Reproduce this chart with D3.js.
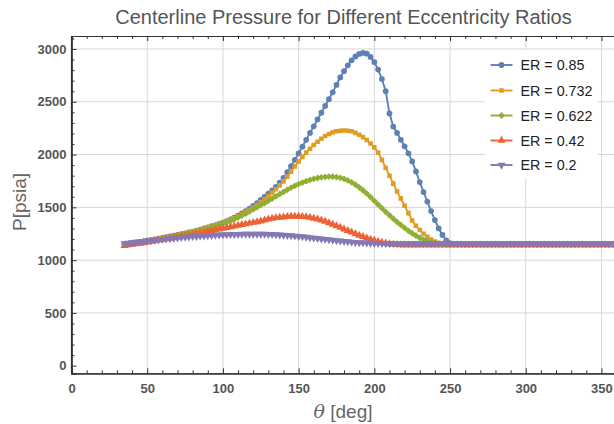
<!DOCTYPE html>
<html>
<head>
<meta charset="utf-8">
<script src="https://cdn.jsdelivr.net/npm/d3@7"></script>
<style>
  html, body { margin: 0; padding: 0; background: #fff; }
  svg { display: block; }
  text { font-family: "Liberation Sans", Arial, sans-serif; }
</style>
</head>
<body>
<svg id="chart" width="614" height="424"></svg>
<script>
// ---------- data ----------
const title = "Centerline Pressure for Different Eccentricity Ratios";
const xLabel = "[deg]";
const yLabel = "P[psia]";
const seriesNames = ["ER = 0.85", "ER = 0.732", "ER = 0.622", "ER = 0.42", "ER = 0.2"];
const xTicks = [0, 50, 100, 150, 200, 250, 300, 350];
const yTicks = [0, 500, 1000, 1500, 2000, 2500, 3000];

const theta = [
  35,37.5,40,42.5,45,47.5,50,52.5,55,57.5,
  60,62.5,65,67.5,70,72.5,75,77.5,80,82.5,
  85,87.5,90,92.5,95,97.5,100,102.5,105,107.5,
  110,112.5,115,117.5,120,122.5,125,127.5,130,132.5,
  135,137.5,140,142.5,145,147.5,150,152.5,155,157.5,
  160,162.5,165,167.5,170,172.5,175,177.5,180,182.5,
  185,187.5,190,192.5,195,197.5,200,202.5,205,207.5,
  210,212.5,215,217.5,220,222.5,225,227.5,230,232.5,
  235,237.5,240,242.5,245,247.5,250,252.5,255,257.5,
  260,262.5,265,267.5,270,272.5,275,277.5,280,282.5,
  285,287.5,290,292.5,295,297.5,300,302.5,305,307.5,
  310,312.5,315,317.5,320,322.5,325,327.5,330,332.5,
  335,337.5,340,342.5,345,347.5,350,352.5,355,357.5,
  360
];

const er085 = [
  1150,1155,1160,1165,1172,1178,1185,1191,1197,1203,
  1210,1217,1224,1231,1238,1246,1254,1262,1271,1280,
  1290,1300,1310,1321,1332,1343,1355,1370,1386,1403,
  1421,1442,1464,1488,1514,1540,1570,1600,1630,1660,
  1695,1735,1780,1833,1890,1950,2012,2075,2140,2205,
  2268,2333,2396,2460,2525,2590,2660,2730,2790,2845,
  2893,2930,2953,2962,2955,2925,2875,2805,2715,2600,
  2390,2265,2205,2140,2078,2012,1935,1840,1740,1645,
  1555,1465,1380,1300,1238,1188,1160,1152,1150,1150,
  1150,1150,1150,1150,1150,1150,1150,1150,1150,1150,
  1150,1150,1150,1150,1150,1150,1150,1150,1150,1150,
  1150,1150,1150,1150,1150,1150,1150,1150,1150,1150,
  1150,1150,1150,1150,1150,1150,1150,1150,1150,1150,
  1150
];

const er0732 = [
  1145,1150,1156,1162,1168,1175,1182,1188,1195,1201,
  1208,1215,1222,1229,1237,1245,1253,1261,1270,1279,
  1289,1299,1309,1320,1331,1342,1354,1368,1383,1399,
  1416,1435,1455,1476,1498,1522,1548,1576,1605,1638,
  1672,1708,1746,1790,1838,1888,1935,1978,2018,2055,
  2090,2122,2150,2175,2195,2210,2220,2226,2228,2226,
  2220,2205,2188,2165,2138,2105,2068,2020,1950,1875,
  1800,1725,1650,1585,1515,1445,1375,1325,1285,1250,
  1220,1195,1175,1162,1155,1152,1150,1150,1150,1150,
  1150,1150,1150,1150,1150,1150,1150,1150,1150,1150,
  1150,1150,1150,1150,1150,1150,1150,1150,1150,1150,
  1150,1150,1150,1150,1150,1150,1150,1150,1150,1150,
  1150,1150,1150,1150,1150,1150,1150,1150,1150,1150,
  1150
];

const er0622 = [
  1150,1155,1160,1165,1170,1176,1182,1188,1194,1200,
  1206,1213,1220,1227,1234,1241,1249,1257,1265,1274,
  1283,1292,1302,1312,1323,1334,1345,1357,1370,1387,
  1405,1422,1440,1460,1480,1500,1520,1541,1562,1583,
  1604,1625,1646,1666,1686,1704,1720,1735,1748,1760,
  1770,1778,1784,1788,1790,1790,1787,1780,1770,1755,
  1737,1715,1690,1662,1630,1597,1562,1527,1492,1458,
  1425,1393,1362,1333,1305,1278,1254,1232,1212,1195,
  1180,1168,1160,1155,1152,1150,1150,1150,1150,1150,
  1150,1150,1150,1150,1150,1150,1150,1150,1150,1150,
  1150,1150,1150,1150,1150,1150,1150,1150,1150,1150,
  1150,1150,1150,1150,1150,1150,1150,1150,1150,1150,
  1150,1150,1150,1150,1150,1150,1150,1150,1150,1150,
  1150
];

const er042 = [
  1138,1143,1148,1153,1158,1164,1170,1176,1182,1188,
  1194,1200,1206,1212,1218,1224,1230,1237,1244,1251,
  1258,1265,1272,1279,1286,1293,1300,1307,1314,1321,
  1328,1335,1342,1349,1356,1363,1370,1378,1388,1396,
  1401,1405,1408,1412,1414,1415,1414,1412,1409,1404,
  1396,1388,1378,1366,1353,1339,1324,1309,1294,1279,
  1264,1249,1235,1222,1209,1197,1186,1176,1167,1160,
  1154,1149,1146,1144,1143,1143,1143,1143,1143,1143,
  1143,1143,1143,1143,1143,1143,1143,1143,1143,1143,
  1143,1143,1143,1143,1143,1143,1143,1143,1143,1143,
  1143,1143,1143,1143,1143,1143,1143,1143,1143,1143,
  1143,1143,1143,1143,1143,1143,1143,1143,1143,1143,
  1143,1143,1143,1143,1143,1143,1143,1143,1143,1143,
  1143
];

const er02 = [
  1158,1162,1166,1170,1174,1178,1182,1186,1190,1194,
  1198,1201,1205,1208,1212,1215,1218,1221,1224,1226,
  1229,1231,1233,1235,1237,1239,1240,1242,1243,1244,
  1245,1246,1246,1247,1247,1247,1247,1246,1245,1244,
  1242,1240,1238,1235,1232,1229,1225,1222,1218,1214,
  1210,1206,1202,1198,1194,1190,1186,1182,1178,1175,
  1172,1169,1167,1165,1163,1161,1160,1159,1158,1157,
  1157,1157,1157,1157,1157,1157,1157,1157,1157,1157,
  1157,1157,1157,1157,1157,1157,1157,1157,1157,1157,
  1157,1157,1157,1157,1157,1157,1157,1157,1157,1157,
  1157,1157,1157,1157,1157,1157,1157,1157,1157,1157,
  1157,1157,1157,1157,1157,1157,1157,1157,1157,1157,
  1157,1157,1157,1157,1157,1157,1157,1157,1157,1157,
  1157
];

const seriesValues = [er085, er0732, er0622, er042, er02];

// ---------- styles ----------
const colors = ["#5E81B5", "#E19C24", "#8FB032", "#EB6235", "#8778B3"];
const plot = { left: 71.5, right: 616.6, top: 36, bottom: 373.3 };

const svg = d3.select("#chart");
const x = d3.scaleLinear().domain([0, 360]).range([plot.left, plot.right]);
const y = d3.scaleLinear().domain([-72, 3123]).range([plot.bottom, plot.top]);

// grid
const grid = svg.append("g");
grid.selectAll("line.gx").data(xTicks.filter(d => d > 0)).enter().append("line")
  .attr("x1", d => x(d)).attr("x2", d => x(d))
  .attr("y1", plot.top).attr("y2", plot.bottom)
  .attr("stroke", "#d6d6d6").attr("stroke-width", 1);
grid.selectAll("line.gy").data(yTicks.filter(d => d > 0)).enter().append("line")
  .attr("x1", plot.left).attr("x2", plot.right)
  .attr("y1", d => y(d)).attr("y2", d => y(d))
  .attr("stroke", "#d6d6d6").attr("stroke-width", 1);

// axes with inward ticks
const tickFont = "bold 13px 'Liberation Sans', Arial, sans-serif";
const xMinor = d3.range(0, 361, 10);
const yMinor = d3.range(0, 3101, 100);

const axB = svg.append("g").attr("transform", `translate(0,${plot.bottom})`)
  .call(d3.axisBottom(x).tickValues(xTicks).tickSize(-5).tickPadding(10).tickFormat(d3.format("d")));
const axBm = svg.append("g").attr("transform", `translate(0,${plot.bottom})`)
  .call(d3.axisBottom(x).tickValues(xMinor.filter(d => d % 50)).tickSize(-3).tickFormat(""));
const axT = svg.append("g").attr("transform", `translate(0,${plot.top})`)
  .call(d3.axisTop(x).tickValues(xTicks).tickSize(-5).tickFormat(""));
const axTm = svg.append("g").attr("transform", `translate(0,${plot.top})`)
  .call(d3.axisTop(x).tickValues(xMinor.filter(d => d % 50)).tickSize(-3).tickFormat(""));
const axL = svg.append("g").attr("transform", `translate(${plot.left},0)`)
  .call(d3.axisLeft(y).tickValues(yTicks).tickSize(-5).tickPadding(5).tickFormat(d3.format("d")));
const axLm = svg.append("g").attr("transform", `translate(${plot.left},0)`)
  .call(d3.axisLeft(y).tickValues(yMinor.filter(d => d % 500)).tickSize(-3).tickFormat(""));

[axB, axBm, axT, axTm, axL, axLm].forEach(g => {
  g.select(".domain").attr("stroke", "#333").attr("stroke-width", 1.2);
  g.selectAll(".tick line").attr("stroke", "#333").attr("stroke-width", 1);
  g.selectAll(".tick text").style("font", tickFont).attr("fill", "#555");
});
axB.selectAll(".tick text").attr("dy", "0.71em");

// clip
svg.append("defs").append("clipPath").attr("id", "clip")
  .append("rect").attr("x", plot.left).attr("y", plot.top)
  .attr("width", plot.right - plot.left).attr("height", plot.bottom - plot.top);

const symbolTypes = [
  { type: d3.symbolCircle, size: 26, rot: 0 },
  { type: d3.symbolSquare, size: 21, rot: 0 },
  { type: d3.symbolSquare, size: 23, rot: 45 },
  { type: d3.symbolTriangle, size: 28, rot: 0 },
  { type: d3.symbolTriangle, size: 28, rot: 180 }
];

const line = d3.line().x(d => x(d[0])).y(d => y(d[1]));
const plotG = svg.append("g").attr("clip-path", "url(#clip)");
seriesValues.forEach((vals, si) => {
  const pts = theta.map((t, i) => [t, vals[i]]);
  const g = plotG.append("g");
  g.append("path").datum(pts).attr("d", line)
    .attr("fill", "none").attr("stroke", colors[si]).attr("stroke-width", 1.9)
    .attr("stroke-linejoin", "round");
  const sym = d3.symbol().type(symbolTypes[si].type).size(symbolTypes[si].size);
  g.selectAll("path.m").data(pts).enter().append("path")
    .attr("d", sym)
    .attr("transform", d => `translate(${x(d[0])},${y(d[1])}) rotate(${symbolTypes[si].rot})`)
    .attr("fill", colors[si]);
});

// re-draw frame line on top
svg.append("line").attr("x1", plot.left).attr("x2", plot.left).attr("y1", plot.top).attr("y2", plot.bottom)
  .attr("stroke", "#333").attr("stroke-width", 1.2);

// legend
const lg = svg.append("g");
lg.append("rect").attr("x", 485).attr("y", 50).attr("width", 113).attr("height", 128).attr("fill", "#fff");
const rowY = [65, 90.5, 115.5, 140.5, 165];
seriesNames.forEach((name, si) => {
  const yy = rowY[si];
  lg.append("line").attr("x1", 490.5).attr("x2", 512.5).attr("y1", yy).attr("y2", yy)
    .attr("stroke", colors[si]).attr("stroke-width", 1.9);
  const sym = d3.symbol().type(symbolTypes[si].type).size(symbolTypes[si].size);
  lg.append("path").attr("d", sym)
    .attr("transform", `translate(501.5,${yy}) rotate(${symbolTypes[si].rot})`)
    .attr("fill", colors[si]);
  lg.append("text").attr("x", 520.5).attr("y", yy + 5).text(name)
    .style("font-size", "14.3px").attr("fill", "#222");
});

// title & labels
svg.append("text").attr("x", 343.5).attr("y", 24).attr("text-anchor", "middle")
  .style("font-size", "20px").attr("fill", "#555").text(title);

const xl = svg.append("text").attr("x", 343).attr("y", 417.5).attr("text-anchor", "middle")
  .style("font-size", "19px").attr("fill", "#666");
xl.append("tspan").style("font-style", "italic").style("font-family", "'DejaVu Serif', serif").text("θ");
xl.append("tspan").text(" " + xLabel);

svg.append("text").attr("transform", "translate(26,202) rotate(-90)").attr("text-anchor", "middle")
  .style("font-size", "19px").attr("fill", "#666").text(yLabel);
</script>
</body>
</html>
